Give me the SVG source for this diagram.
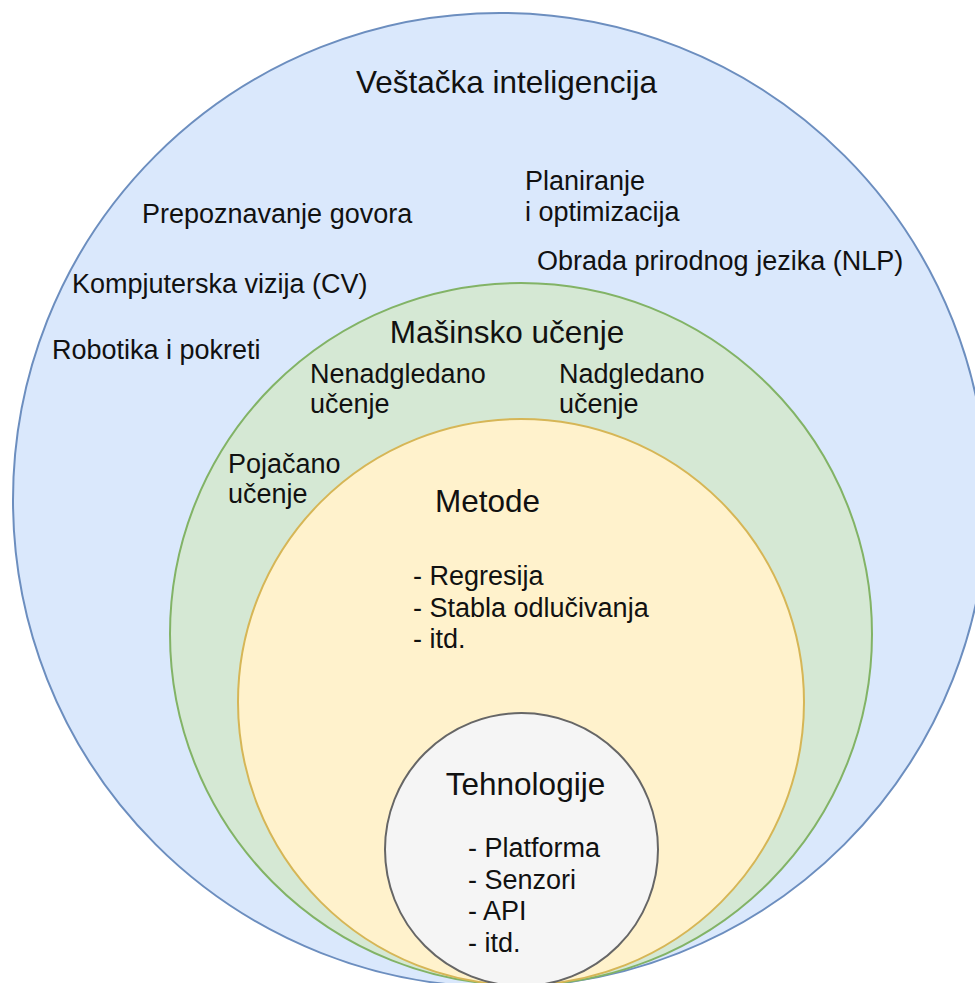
<svg xmlns="http://www.w3.org/2000/svg" width="975" height="983" viewBox="0 0 975 983">
<style>
text { font-family: "Liberation Sans", Arial, sans-serif; fill: #111111; }
.lbl { font-size: 27px; }
.ttl { font-size: 31.5px; text-anchor: middle; }
.c { stroke-width: 2; }
</style>
<rect x="0" y="0" width="975" height="983" fill="#ffffff"/>
<g id="ai">
  <circle class="c" cx="500" cy="500" r="487" fill="#dae8fc" stroke="#6c8ebf"/>
  <text class="ttl" x="506.5" y="93">Veštačka inteligencija</text>
  <text class="lbl" x="525" y="190">Planiranje</text>
  <text class="lbl" x="525" y="221">i optimizacija</text>
  <text class="lbl" x="142" y="223">Prepoznavanje govora</text>
  <text class="lbl" x="537" y="270">Obrada prirodnog jezika (NLP)</text>
  <text class="lbl" x="72" y="293">Kompjuterska vizija (CV)</text>
  <text class="lbl" x="52" y="359">Robotika i pokreti</text>
</g>
<g id="ml">
  <circle class="c" cx="521" cy="634" r="351" fill="#d5e8d4" stroke="#82b366"/>
  <text class="ttl" x="507" y="343">Mašinsko učenje</text>
  <text class="lbl" x="310" y="383">Nenadgledano</text>
  <text class="lbl" x="310" y="413">učenje</text>
  <text class="lbl" x="559" y="383">Nadgledano</text>
  <text class="lbl" x="559" y="413">učenje</text>
  <text class="lbl" x="228" y="473">Pojačano</text>
  <text class="lbl" x="228" y="503">učenje</text>
</g>
<g id="metode">
  <circle class="c" cx="521" cy="702" r="283" fill="#fff2cc" stroke="#d6b656"/>
  <text class="ttl" x="487.5" y="512">Metode</text>
  <text class="lbl" x="413" y="585">- Regresija</text>
  <text class="lbl" x="413" y="617">- Stabla odlučivanja</text>
  <text class="lbl" x="413" y="648">- itd.</text>
</g>
<g id="tehnologije">
  <circle class="c" cx="521.5" cy="849.5" r="136.5" fill="#f5f5f5" stroke="#666666"/>
  <text class="ttl" x="525.5" y="795">Tehnologije</text>
  <text class="lbl" x="468" y="857">- Platforma</text>
  <text class="lbl" x="468" y="889">- Senzori</text>
  <text class="lbl" x="468" y="920">- API</text>
  <text class="lbl" x="468" y="952">- itd.</text>
</g>
<g id="connectors"></g>
</svg>
